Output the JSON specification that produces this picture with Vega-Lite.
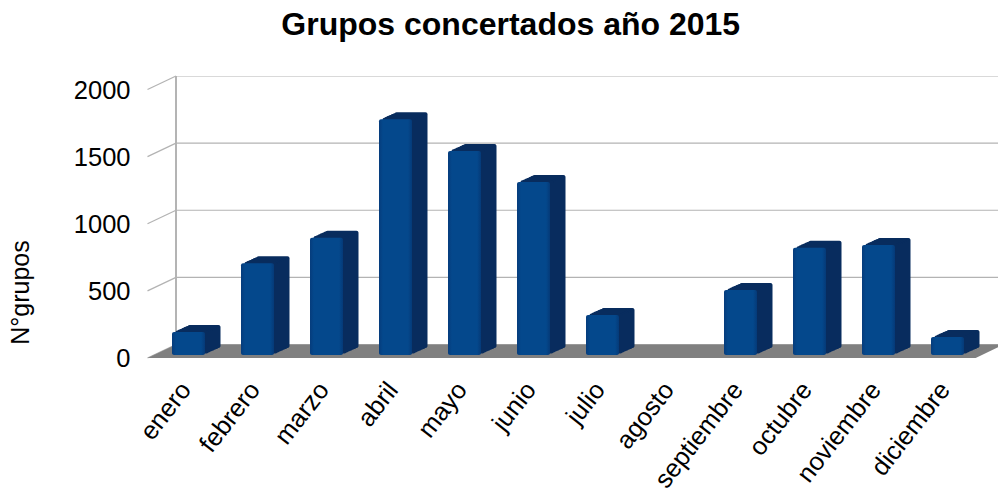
{
"$schema":"https://vega.github.io/schema/vega-lite/v6.json",
"autosize":{"type":"none"},
"padding":{"left":147.5,"top":76,"right":0,"bottom":137},
"width":850.5,"height":282,
"background":"white",
"title":{"text":"Grupos concertados año 2015","font":"Liberation Sans","fontSize":32,"fontWeight":"bold","color":"#000000","anchor":"middle","dx":-62,"offset":33},
"config":{"view":{"stroke":null}},
"resolve":{"scale":{"x":"independent"},"axis":{"x":"independent"}},
"layer":[
{"data":{"values":[{"level":0},{"level":500},{"level":1000},{"level":1500},{"level":2000}]},
 "transform":[{"calculate":"datum.level-100.6","as":"front"}],
 "layer":[
  {"mark":{"type":"rule","stroke":"#b3b3b3","strokeWidth":1.2,"clip":true},
   "encoding":{"x":{"datum":0,"type":"quantitative","scale":{"domain":[-0.413,11.913],"nice":false,"zero":false},"axis":null},"x2":{"datum":12},
    "y":{"field":"level","type":"quantitative","scale":{"domain":[-100.6,2000],"nice":false,"zero":false},
     "axis":{"values":[0,500,1000,1500,2000],"format":"d","domain":false,"ticks":false,"grid":false,"labelFont":"Liberation Sans","labelFontSize":25.5,"labelColor":"#000000","labelOffset":14.5,"labelPadding":17.5,"title":"N°grupos","titleFont":"Liberation Sans","titleFontSize":25,"titleFontWeight":"normal","titleColor":"#000000","titleAngle":-90,"titleX":-114,"titleY":216,"titleAlign":"center"}}}},
  {"mark":{"type":"rule","stroke":"#b3b3b3","strokeWidth":1.2},
   "encoding":{"x":{"datum":-0.413,"type":"quantitative"},"x2":{"datum":0},"y":{"field":"front","type":"quantitative"},"y2":{"field":"level"}}},
  {"mark":{"type":"rule","stroke":"#b3b3b3","strokeWidth":1.2},
   "encoding":{"x":{"datum":0,"type":"quantitative"},"y":{"datum":0,"type":"quantitative"},"y2":{"datum":2000}}},
  {"data":{"values":[{"fx":-0.413,"top":-100.6,"bot":-100.6},{"fx":0,"top":0,"bot":-100.6},{"fx":11.59,"top":0,"bot":-100.6},{"fx":12,"top":0,"bot":0}]},
   "transform":[],
   "mark":{"type":"area","fill":"#808080","clip":true},
   "encoding":{"x":{"field":"fx","type":"quantitative"},"y":{"field":"top","type":"quantitative"},"y2":{"field":"bot"}}}
 ]},
{"data":{"values":[
 {"mes":"enero","grupos":171},{"mes":"febrero","grupos":683},{"mes":"marzo","grupos":874},{"mes":"abril","grupos":1756},
 {"mes":"mayo","grupos":1520},{"mes":"junio","grupos":1289},{"mes":"julio","grupos":298},{"mes":"agosto","grupos":null},
 {"mes":"septiembre","grupos":484},{"mes":"octubre","grupos":799},{"mes":"noviembre","grupos":819},{"mes":"diciembre","grupos":134}]},
 "encoding":{
  "x":{"field":"mes","type":"nominal","sort":null,
   "scale":{"domain":["enero","febrero","marzo","abril","mayo","junio","julio","agosto","septiembre","octubre","noviembre","diciembre"],"range":[0,828]},
   "axis":{"orient":"bottom","title":null,"domain":false,"ticks":false,"labelAngle":-52,"labelAlign":"right","labelBaseline":"middle","labelFont":"Liberation Sans","labelFontSize":25.5,"labelColor":"#000000","labelPadding":27,"labelOffset":4,"labelOverlap":false}},
  "y":{"field":"grupos","type":"quantitative","stack":null},
  "y2":{"datum":0}},
 "layer":[
  {"mark":{"type":"bar","size":33,"cornerRadius":2,"fill":"#082c5e","xOffset":22,"yOffset":3.5,"y2Offset":3.5}},
  {"mark":{"type":"bar","size":33,"cornerRadius":2,"fill":"#082c5e","xOffset":20,"yOffset":4.4,"y2Offset":4.4}},
  {"mark":{"type":"bar","size":33,"cornerRadius":2,"fill":"#082c5e","xOffset":18,"yOffset":5.3,"y2Offset":5.3}},
  {"mark":{"type":"bar","size":33,"cornerRadius":2,"fill":"#082c5e","xOffset":16,"yOffset":6.2,"y2Offset":6.2}},
  {"mark":{"type":"bar","size":33,"cornerRadius":2,"fill":"#082c5e","xOffset":14,"yOffset":7.1,"y2Offset":7.1}},
  {"mark":{"type":"bar","size":33,"cornerRadius":2,"fill":"#082c5e","xOffset":12,"yOffset":8,"y2Offset":8}},
  {"mark":{"type":"bar","size":33,"cornerRadius":2,"fill":"#082c5e","xOffset":10,"yOffset":8.9,"y2Offset":8.9}},
  {"mark":{"type":"bar","size":33,"cornerRadius":2,"fill":{"x1":0,"y1":0,"x2":1,"y2":0,"gradient":"linear","stops":[{"offset":0,"color":"#063c7c"},{"offset":0.12,"color":"#04488c"},{"offset":0.88,"color":"#04488c"},{"offset":1,"color":"#053a78"}]},"xOffset":6.5,"yOffset":10.5,"y2Offset":10.5}}
 ]}
]}
